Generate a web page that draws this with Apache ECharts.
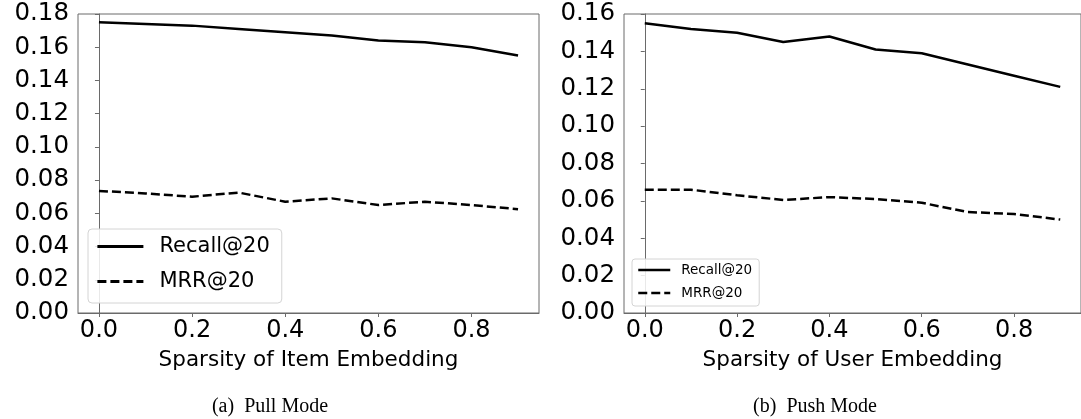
<!DOCTYPE html>
<html>
<head>
<meta charset="utf-8">
<script src="https://cdn.jsdelivr.net/npm/echarts@6/dist/echarts.min.js"></script>
<style>
html,body{margin:0;padding:0;background:#fff;overflow:hidden;}
#chart{width:1081px;height:419px;}
</style>
</head>
<body>
<div id="chart"></div>
<script>
// ---- data ----
const sparsity = [0.0, 0.1, 0.2, 0.3, 0.4, 0.5, 0.6, 0.7, 0.8, 0.9];
const pullRecall = [0.175, 0.174, 0.173, 0.171, 0.169, 0.167, 0.164, 0.163, 0.160, 0.155];
const pullMRR    = [0.0735, 0.072, 0.070, 0.0725, 0.067, 0.069, 0.065, 0.067, 0.065, 0.0625];
const pushRecall = [0.155, 0.152, 0.150, 0.145, 0.148, 0.141, 0.139, 0.133, 0.127, 0.121];
const pushMRR    = [0.066, 0.066, 0.063, 0.0605, 0.062, 0.061, 0.059, 0.054, 0.053, 0.050];
const xTicks = [0.0, 0.2, 0.4, 0.6, 0.8];
const seriesNames = ['Recall@20', 'MRR@20'];
const xNames = ['Sparsity of Item Embedding', 'Sparsity of User Embedding'];
const captions = ['(a)  Pull Mode', '(b)  Push Mode'];

const pairs = (xs, ys) => xs.map((x, i) => [x, ys[i]]);
const FONT = 'DejaVu Sans';
const spine = '#6a6a6a';

function xAxis(gi, name) {
  return {
    type: 'value', gridIndex: gi, min: -0.045, max: 0.945,
    name: name, nameLocation: 'middle', nameGap: 36,
    nameTextStyle: {fontFamily: FONT, fontSize: 21.5, color: '#000'},
    axisLine: {show: true, onZero: false, lineStyle: {color: spine, width: 1}},
    axisTick: {show: true, length: 4, customValues: xTicks, lineStyle: {color: spine}},
    axisLabel: {customValues: xTicks, margin: 6, fontFamily: FONT, fontSize: 24, color: '#000',
                formatter: v => v.toFixed(1)},
    splitLine: {show: false}
  };
}
function yAxis(gi, max) {
  return {
    type: 'value', gridIndex: gi, min: 0, max: max, interval: 0.02,
    axisLine: {show: true, lineStyle: {color: spine, width: 1}},
    axisTick: {show: true, length: 4, lineStyle: {color: spine}},
    axisLabel: {margin: 9, fontFamily: FONT, fontSize: 24.5, color: '#000',
                formatter: v => v.toFixed(2)},
    splitLine: {show: false}
  };
}
function line(name, gi, data, dashed) {
  return {
    name: name, type: 'line', xAxisIndex: gi, yAxisIndex: gi,
    data: data, symbol: 'none', smooth: false, silent: true,
    lineStyle: {color: '#000', width: 2.5, type: dashed ? [9, 4] : 'solid'},
    itemStyle: {color: '#000'}
  };
}

const chart = echarts.init(document.getElementById('chart'), null, {renderer: 'canvas'});
chart.setOption({
  animation: false,
  backgroundColor: '#fff',
  grid: [
    {left: 78, top: 14, width: 461, height: 299, show: true, borderColor: spine, borderWidth: 1},
    {left: 624, top: 14, width: 462, height: 299, show: true, borderColor: spine, borderWidth: 1}
  ],
  xAxis: [xAxis(0, xNames[0]), xAxis(1, xNames[1])],
  yAxis: [yAxis(0, 0.18), yAxis(1, 0.16)],
  legend: [
    {
      data: seriesNames, orient: 'vertical', left: 88, top: 229,
      itemWidth: 46, itemHeight: 14, itemGap: 14,
      padding: [7, 12, 11, 8],
      itemStyle: {opacity: 0},
      lineStyle: {width: 2.8},
      backgroundColor: 'rgba(255,255,255,0.85)', borderColor: '#d4d4d4', borderWidth: 1, borderRadius: 4,
      textStyle: {fontFamily: FONT, fontSize: 21, color: '#000', padding: [0, 0, 0, 11]},
      selectedMode: false
    },
    {
      data: seriesNames, orient: 'vertical', left: 632, top: 259,
      itemWidth: 32, itemHeight: 10, itemGap: 9,
      padding: [4, 7, 6, 5],
      itemStyle: {opacity: 0},
      lineStyle: {width: 2.5},
      backgroundColor: 'rgba(255,255,255,0.85)', borderColor: '#d4d4d4', borderWidth: 1, borderRadius: 3,
      textStyle: {fontFamily: FONT, fontSize: 13.5, color: '#000', padding: [0, 0, 0, 6]},
      selectedMode: false
    }
  ],
  series: [
    line(seriesNames[0], 0, pairs(sparsity, pullRecall), false),
    line(seriesNames[1], 0, pairs(sparsity, pullMRR), true),
    line(seriesNames[0], 1, pairs(sparsity, pushRecall), false),
    line(seriesNames[1], 1, pairs(sparsity, pushMRR), true)
  ],
  graphic: [
    {type: 'text', x: 270, y: 407, style: {text: captions[0], fontFamily: 'Liberation Serif', fontSize: 20, fill: '#000', align: 'center', verticalAlign: 'middle'}},
    {type: 'text', x: 815, y: 407, style: {text: captions[1], fontFamily: 'Liberation Serif', fontSize: 20, fill: '#000', align: 'center', verticalAlign: 'middle'}}
  ]
});
</script>
</body>
</html>
